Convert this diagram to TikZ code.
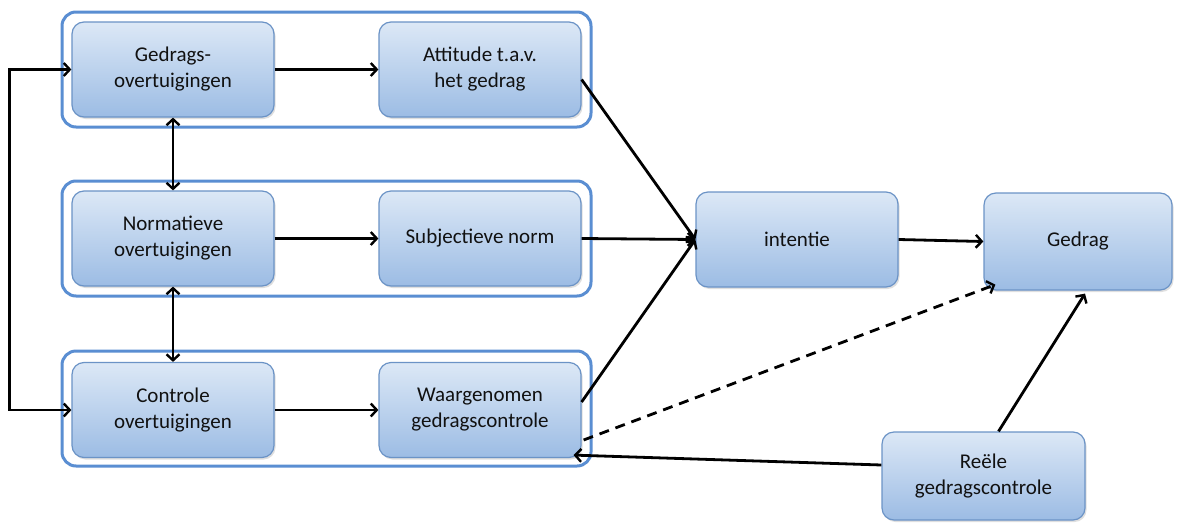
\documentclass[tikz,border=0pt]{standalone}
\usepackage{fontspec}
\setmainfont{Carlito}
\usetikzlibrary{arrows.meta,shadows}
\definecolor{boxtop}{HTML}{DCE8F6}
\definecolor{boxbot}{HTML}{9CBCE4}
\definecolor{boxline}{HTML}{6B93C6}
\definecolor{grpline}{HTML}{5A8ED2}
\definecolor{txt}{HTML}{111111}
\tikzset{
  box/.style={draw=boxline, line width=1.2pt, rounded corners=12pt,
    top color=boxtop, bottom color=boxbot,
    drop shadow={shadow xshift=1.5pt, shadow yshift=-2pt, fill=black!25, opacity=0.5},
    minimum width=202pt, minimum height=95pt, align=center,
    font=\fontsize{21}{26}\selectfont, text=txt, inner sep=2pt},
  grp/.style={draw=grpline, line width=3pt, rounded corners=14pt, fill=white,
    minimum width=529pt, minimum height=115pt},
  arr/.style={line width=2.8pt, -{Straight Barb[length=6pt,width=13pt,line width=2.4pt]}},
  darr/.style={line width=2.8pt, {Straight Barb[length=6pt,width=13pt,line width=2.4pt]}-{Straight Barb[length=6pt,width=13pt,line width=2.4pt]}},
  dsh/.style={arr, dash pattern=on 10pt off 7pt},
}
\begin{document}
\begin{tikzpicture}[x=1pt,y=1pt]
\useasboundingbox (0,0) rectangle (1183,-525);
\node[grp] (g1) at (326.5,-69.5) {};
\node[grp] (g2) at (326.5,-238.5) {};
\node[grp] (g3) at (326.5,-408.5) {};
\node[box] (ged) at (173,-69.5) {Gedrags-\\overtuigingen};
\node[box] (att) at (480,-69.5) {Attitude t.a.v.\\het gedrag};
\node[box] (nor) at (173,-238.5) {Normatieve\\overtuigingen};
\node[box] (sub) at (480,-238.5) {Subjectieve norm};
\node[box] (con) at (173,-410) {Controle\\overtuigingen};
\node[box] (waa) at (480,-410) {Waargenomen\\gedragscontrole};
\node[box] (int) at (797,-239.5) {intentie};
\node[box, minimum width=188pt, minimum height=97pt] (gdr) at (1078,-241.5) {Gedrag};
\node[box, minimum width=203pt, minimum height=88pt] (ree) at (983.5,-476) {Reële\\gedragscontrole};

\draw[darr] (ged.west) -- ++(-62,0) |- (con.west);
\draw[darr] (ged.south) -- (nor.north);
\draw[darr] (nor.south) -- (con.north);
\draw[arr] (ged.east) -- (att.west);
\draw[arr] (nor.east) -- (sub.west);
\draw[arr] (con.east) -- (waa.west);
\draw[arr] ([yshift=-10pt]att.east) -- (int.west);
\draw[arr] (sub.east) -- (int.west);
\draw[arr] ([yshift=8pt]waa.east) -- (int.west);
\draw[arr] (int.east) -- (gdr.west);
\draw[dsh] ([xshift=2pt,yshift=-30pt]waa.east) -- ([xshift=12pt,yshift=6pt]gdr.south west);
\draw[arr] ([xshift=15pt]ree.north) -- ([xshift=7pt,yshift=-3pt]gdr.south);
\draw[arr] ([yshift=11pt]ree.west) -- ([xshift=-8pt,yshift=3pt]waa.south east);
\end{tikzpicture}
\end{document}
